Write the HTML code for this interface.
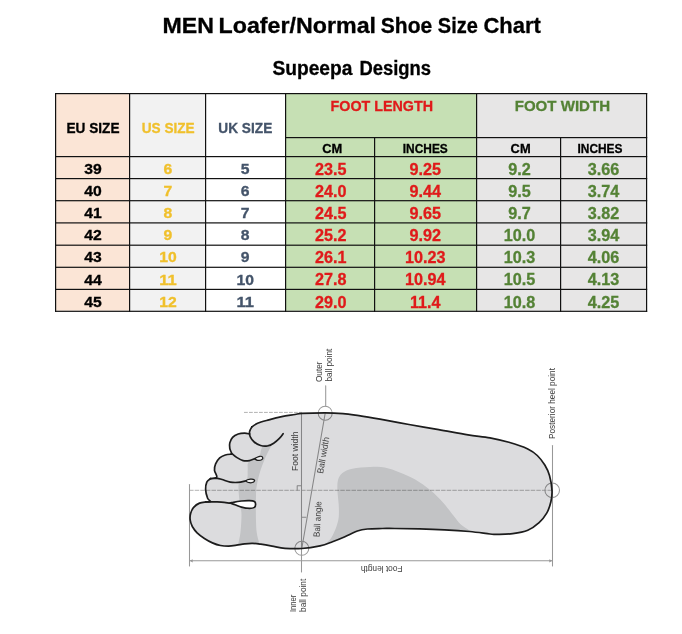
<!DOCTYPE html>
<html><head><meta charset="utf-8"><title>MEN Loafer/Normal Shoe Size Chart</title>
<style>
html,body{margin:0;padding:0;background:#fff;}
body{width:682px;height:634px;overflow:hidden;font-family:"Liberation Sans",sans-serif;}
svg{display:block;font-family:"Liberation Sans",sans-serif;will-change:transform;}
</style></head><body>
<svg width="682" height="634" viewBox="0 0 682 634">
<rect x="55" y="93" width="74" height="217.7" fill="#fbe5d6"/>
<rect x="129" y="93" width="76" height="217.7" fill="#f2f2f2"/>
<rect x="285" y="93" width="191" height="217.7" fill="#c6e0b4"/>
<rect x="476" y="93" width="170" height="217.7" fill="#e7e6e6"/>
<rect x="55" y="93" width="592.2" height="1.2" fill="#111"/>
<rect x="285" y="137" width="362.2" height="1.2" fill="#111"/>
<rect x="55" y="156" width="592.2" height="1.2" fill="#111"/>
<rect x="55" y="178" width="592.2" height="1.2" fill="#111"/>
<rect x="55" y="200.1" width="592.2" height="1.2" fill="#111"/>
<rect x="55" y="222.3" width="592.2" height="1.2" fill="#111"/>
<rect x="55" y="244.6" width="592.2" height="1.2" fill="#111"/>
<rect x="55" y="266.7" width="592.2" height="1.2" fill="#111"/>
<rect x="55" y="288.8" width="592.2" height="1.2" fill="#111"/>
<rect x="55" y="310.7" width="592.2" height="1.2" fill="#111"/>
<rect x="55" y="93" width="1.2" height="218.9" fill="#111"/>
<rect x="129" y="93" width="1.2" height="218.9" fill="#111"/>
<rect x="205" y="93" width="1.2" height="218.9" fill="#111"/>
<rect x="285" y="93" width="1.2" height="218.9" fill="#111"/>
<rect x="374" y="137" width="1.2" height="174.9" fill="#111"/>
<rect x="476" y="93" width="1.2" height="218.9" fill="#111"/>
<rect x="560" y="137" width="1.2" height="174.9" fill="#111"/>
<rect x="646" y="93" width="1.2" height="218.9" fill="#111"/>
<text x="162.6" y="32.8" font-size="21.4" fill="#000" stroke="#000" stroke-width="0.3" text-anchor="start" font-weight="bold" textLength="51.4" lengthAdjust="spacingAndGlyphs">MEN</text>
<text x="218.6" y="32.8" font-size="21.4" fill="#000" stroke="#000" stroke-width="0.3" text-anchor="start" font-weight="bold" textLength="157.4" lengthAdjust="spacingAndGlyphs">Loafer/Normal</text>
<text x="380.8" y="32.8" font-size="21.4" fill="#000" stroke="#000" stroke-width="0.3" text-anchor="start" font-weight="bold" textLength="51.4" lengthAdjust="spacingAndGlyphs">Shoe</text>
<text x="437.8" y="32.8" font-size="21.4" fill="#000" stroke="#000" stroke-width="0.3" text-anchor="start" font-weight="bold" textLength="40" lengthAdjust="spacingAndGlyphs">Size</text>
<text x="483.4" y="32.8" font-size="21.4" fill="#000" stroke="#000" stroke-width="0.3" text-anchor="start" font-weight="bold" textLength="57.4" lengthAdjust="spacingAndGlyphs">Chart</text>
<text x="272.4" y="74.5" font-size="19.6" fill="#000" stroke="#000" stroke-width="0.3" text-anchor="start" font-weight="bold" textLength="80" lengthAdjust="spacingAndGlyphs">Supeepa</text>
<text x="359.4" y="74.5" font-size="19.6" fill="#000" stroke="#000" stroke-width="0.3" text-anchor="start" font-weight="bold" textLength="71.6" lengthAdjust="spacingAndGlyphs">Designs</text>
<text x="93" y="132.6" font-size="14.7" fill="#000000" stroke="#000000" stroke-width="0.3" text-anchor="middle" font-weight="bold" textLength="53" lengthAdjust="spacingAndGlyphs">EU SIZE</text>
<text x="168.2" y="132.6" font-size="14.7" fill="#f0c02c" stroke="#f0c02c" stroke-width="0.3" text-anchor="middle" font-weight="bold" textLength="53" lengthAdjust="spacingAndGlyphs">US SIZE</text>
<text x="245.3" y="132.6" font-size="14.7" fill="#44546a" stroke="#44546a" stroke-width="0.3" text-anchor="middle" font-weight="bold" textLength="54" lengthAdjust="spacingAndGlyphs">UK SIZE</text>
<text x="381.8" y="111" font-size="15.4" fill="#e01a1a" stroke="#e01a1a" stroke-width="0.3" text-anchor="middle" font-weight="bold" textLength="102.4" lengthAdjust="spacingAndGlyphs">FOOT LENGTH</text>
<text x="562.4" y="111" font-size="15.4" fill="#548235" stroke="#548235" stroke-width="0.3" text-anchor="middle" font-weight="bold" textLength="95.4" lengthAdjust="spacingAndGlyphs">FOOT WIDTH</text>
<text x="332.2" y="153" font-size="12.4" fill="#000" stroke="#000" stroke-width="0.3" text-anchor="middle" font-weight="bold" textLength="20" lengthAdjust="spacingAndGlyphs">CM</text>
<text x="425.3" y="153" font-size="12.4" fill="#000" stroke="#000" stroke-width="0.3" text-anchor="middle" font-weight="bold" textLength="45" lengthAdjust="spacingAndGlyphs">INCHES</text>
<text x="520.6" y="153" font-size="12.4" fill="#000" stroke="#000" stroke-width="0.3" text-anchor="middle" font-weight="bold" textLength="20" lengthAdjust="spacingAndGlyphs">CM</text>
<text x="600" y="153" font-size="12.4" fill="#000" stroke="#000" stroke-width="0.3" text-anchor="middle" font-weight="bold" textLength="45" lengthAdjust="spacingAndGlyphs">INCHES</text>
<text x="92.9" y="173.8" font-size="14.7" fill="#000000" stroke="#000000" stroke-width="0.3" text-anchor="middle" font-weight="bold" textLength="17.4906" lengthAdjust="spacingAndGlyphs">39</text>
<text x="167.9" y="173.8" font-size="14.7" fill="#f0c02c" stroke="#f0c02c" stroke-width="0.3" text-anchor="middle" font-weight="bold" textLength="8.74532" lengthAdjust="spacingAndGlyphs">6</text>
<text x="245.2" y="173.8" font-size="14.7" fill="#44546a" stroke="#44546a" stroke-width="0.3" text-anchor="middle" font-weight="bold" textLength="8.74532" lengthAdjust="spacingAndGlyphs">5</text>
<text x="330.8" y="174.6" font-size="16.2" fill="#e01a1a" stroke="#e01a1a" stroke-width="0.3" text-anchor="middle" font-weight="bold">23.5</text>
<text x="425.2" y="174.6" font-size="16.2" fill="#e01a1a" stroke="#e01a1a" stroke-width="0.3" text-anchor="middle" font-weight="bold">9.25</text>
<text x="519.5" y="174.6" font-size="16.2" fill="#548235" stroke="#548235" stroke-width="0.3" text-anchor="middle" font-weight="bold">9.2</text>
<text x="603.5" y="174.6" font-size="16.2" fill="#548235" stroke="#548235" stroke-width="0.3" text-anchor="middle" font-weight="bold">3.66</text>
<text x="92.9" y="195.95" font-size="14.7" fill="#000000" stroke="#000000" stroke-width="0.3" text-anchor="middle" font-weight="bold" textLength="17.4906" lengthAdjust="spacingAndGlyphs">40</text>
<text x="167.9" y="195.95" font-size="14.7" fill="#f0c02c" stroke="#f0c02c" stroke-width="0.3" text-anchor="middle" font-weight="bold" textLength="8.74532" lengthAdjust="spacingAndGlyphs">7</text>
<text x="245.2" y="195.95" font-size="14.7" fill="#44546a" stroke="#44546a" stroke-width="0.3" text-anchor="middle" font-weight="bold" textLength="8.74532" lengthAdjust="spacingAndGlyphs">6</text>
<text x="330.8" y="196.75" font-size="16.2" fill="#e01a1a" stroke="#e01a1a" stroke-width="0.3" text-anchor="middle" font-weight="bold">24.0</text>
<text x="425.2" y="196.75" font-size="16.2" fill="#e01a1a" stroke="#e01a1a" stroke-width="0.3" text-anchor="middle" font-weight="bold">9.44</text>
<text x="519.5" y="196.75" font-size="16.2" fill="#548235" stroke="#548235" stroke-width="0.3" text-anchor="middle" font-weight="bold">9.5</text>
<text x="603.5" y="196.75" font-size="16.2" fill="#548235" stroke="#548235" stroke-width="0.3" text-anchor="middle" font-weight="bold">3.74</text>
<text x="92.9" y="218.1" font-size="14.7" fill="#000000" stroke="#000000" stroke-width="0.3" text-anchor="middle" font-weight="bold" textLength="17.4906" lengthAdjust="spacingAndGlyphs">41</text>
<text x="167.9" y="218.1" font-size="14.7" fill="#f0c02c" stroke="#f0c02c" stroke-width="0.3" text-anchor="middle" font-weight="bold" textLength="8.74532" lengthAdjust="spacingAndGlyphs">8</text>
<text x="245.2" y="218.1" font-size="14.7" fill="#44546a" stroke="#44546a" stroke-width="0.3" text-anchor="middle" font-weight="bold" textLength="8.74532" lengthAdjust="spacingAndGlyphs">7</text>
<text x="330.8" y="218.9" font-size="16.2" fill="#e01a1a" stroke="#e01a1a" stroke-width="0.3" text-anchor="middle" font-weight="bold">24.5</text>
<text x="425.2" y="218.9" font-size="16.2" fill="#e01a1a" stroke="#e01a1a" stroke-width="0.3" text-anchor="middle" font-weight="bold">9.65</text>
<text x="519.5" y="218.9" font-size="16.2" fill="#548235" stroke="#548235" stroke-width="0.3" text-anchor="middle" font-weight="bold">9.7</text>
<text x="603.5" y="218.9" font-size="16.2" fill="#548235" stroke="#548235" stroke-width="0.3" text-anchor="middle" font-weight="bold">3.82</text>
<text x="92.9" y="240.25" font-size="14.7" fill="#000000" stroke="#000000" stroke-width="0.3" text-anchor="middle" font-weight="bold" textLength="17.4906" lengthAdjust="spacingAndGlyphs">42</text>
<text x="167.9" y="240.25" font-size="14.7" fill="#f0c02c" stroke="#f0c02c" stroke-width="0.3" text-anchor="middle" font-weight="bold" textLength="8.74532" lengthAdjust="spacingAndGlyphs">9</text>
<text x="245.2" y="240.25" font-size="14.7" fill="#44546a" stroke="#44546a" stroke-width="0.3" text-anchor="middle" font-weight="bold" textLength="8.74532" lengthAdjust="spacingAndGlyphs">8</text>
<text x="330.8" y="241.05" font-size="16.2" fill="#e01a1a" stroke="#e01a1a" stroke-width="0.3" text-anchor="middle" font-weight="bold">25.2</text>
<text x="425.2" y="241.05" font-size="16.2" fill="#e01a1a" stroke="#e01a1a" stroke-width="0.3" text-anchor="middle" font-weight="bold">9.92</text>
<text x="519.5" y="241.05" font-size="16.2" fill="#548235" stroke="#548235" stroke-width="0.3" text-anchor="middle" font-weight="bold">10.0</text>
<text x="603.5" y="241.05" font-size="16.2" fill="#548235" stroke="#548235" stroke-width="0.3" text-anchor="middle" font-weight="bold">3.94</text>
<text x="92.9" y="262.4" font-size="14.7" fill="#000000" stroke="#000000" stroke-width="0.3" text-anchor="middle" font-weight="bold" textLength="17.4906" lengthAdjust="spacingAndGlyphs">43</text>
<text x="167.9" y="262.4" font-size="14.7" fill="#f0c02c" stroke="#f0c02c" stroke-width="0.3" text-anchor="middle" font-weight="bold" textLength="17.4906" lengthAdjust="spacingAndGlyphs">10</text>
<text x="245.2" y="262.4" font-size="14.7" fill="#44546a" stroke="#44546a" stroke-width="0.3" text-anchor="middle" font-weight="bold" textLength="8.74532" lengthAdjust="spacingAndGlyphs">9</text>
<text x="330.8" y="263.2" font-size="16.2" fill="#e01a1a" stroke="#e01a1a" stroke-width="0.3" text-anchor="middle" font-weight="bold">26.1</text>
<text x="425.2" y="263.2" font-size="16.2" fill="#e01a1a" stroke="#e01a1a" stroke-width="0.3" text-anchor="middle" font-weight="bold">10.23</text>
<text x="519.5" y="263.2" font-size="16.2" fill="#548235" stroke="#548235" stroke-width="0.3" text-anchor="middle" font-weight="bold">10.3</text>
<text x="603.5" y="263.2" font-size="16.2" fill="#548235" stroke="#548235" stroke-width="0.3" text-anchor="middle" font-weight="bold">4.06</text>
<text x="92.9" y="284.55" font-size="14.7" fill="#000000" stroke="#000000" stroke-width="0.3" text-anchor="middle" font-weight="bold" textLength="17.4906" lengthAdjust="spacingAndGlyphs">44</text>
<text x="167.9" y="284.55" font-size="14.7" fill="#f0c02c" stroke="#f0c02c" stroke-width="0.3" text-anchor="middle" font-weight="bold" textLength="17.4906" lengthAdjust="spacingAndGlyphs">11</text>
<text x="245.2" y="284.55" font-size="14.7" fill="#44546a" stroke="#44546a" stroke-width="0.3" text-anchor="middle" font-weight="bold" textLength="17.4906" lengthAdjust="spacingAndGlyphs">10</text>
<text x="330.8" y="285.35" font-size="16.2" fill="#e01a1a" stroke="#e01a1a" stroke-width="0.3" text-anchor="middle" font-weight="bold">27.8</text>
<text x="425.2" y="285.35" font-size="16.2" fill="#e01a1a" stroke="#e01a1a" stroke-width="0.3" text-anchor="middle" font-weight="bold">10.94</text>
<text x="519.5" y="285.35" font-size="16.2" fill="#548235" stroke="#548235" stroke-width="0.3" text-anchor="middle" font-weight="bold">10.5</text>
<text x="603.5" y="285.35" font-size="16.2" fill="#548235" stroke="#548235" stroke-width="0.3" text-anchor="middle" font-weight="bold">4.13</text>
<text x="92.9" y="306.7" font-size="14.7" fill="#000000" stroke="#000000" stroke-width="0.3" text-anchor="middle" font-weight="bold" textLength="17.4906" lengthAdjust="spacingAndGlyphs">45</text>
<text x="167.9" y="306.7" font-size="14.7" fill="#f0c02c" stroke="#f0c02c" stroke-width="0.3" text-anchor="middle" font-weight="bold" textLength="17.4906" lengthAdjust="spacingAndGlyphs">12</text>
<text x="245.2" y="306.7" font-size="14.7" fill="#44546a" stroke="#44546a" stroke-width="0.3" text-anchor="middle" font-weight="bold" textLength="17.4906" lengthAdjust="spacingAndGlyphs">11</text>
<text x="330.8" y="307.5" font-size="16.2" fill="#e01a1a" stroke="#e01a1a" stroke-width="0.3" text-anchor="middle" font-weight="bold">29.0</text>
<text x="425.2" y="307.5" font-size="16.2" fill="#e01a1a" stroke="#e01a1a" stroke-width="0.3" text-anchor="middle" font-weight="bold">11.4</text>
<text x="519.5" y="307.5" font-size="16.2" fill="#548235" stroke="#548235" stroke-width="0.3" text-anchor="middle" font-weight="bold">10.8</text>
<text x="603.5" y="307.5" font-size="16.2" fill="#548235" stroke="#548235" stroke-width="0.3" text-anchor="middle" font-weight="bold">4.25</text>
<g fill="none" stroke-linecap="round" stroke-linejoin="round">
<path d="M251.9 426.8C252.9 426.2 254.8 424.5 257.6 423.3C260.4 422.1 264.9 421.0 268.9 419.9C272.9 418.8 277.4 417.6 281.8 416.7C286.2 415.8 291.6 415.1 295.0 414.5C298.4 413.9 297.0 413.7 302.0 413.4C307.0 413.1 318.2 412.8 325.0 412.8C331.8 412.8 337.4 413.1 343.0 413.6C348.6 414.1 352.7 414.8 358.9 415.7C365.1 416.6 371.6 417.7 380.0 419.2C388.4 420.7 399.2 422.8 409.0 424.5C418.8 426.2 428.9 427.9 438.7 429.6C448.5 431.3 459.4 433.4 468.0 434.8C476.6 436.2 483.2 436.6 490.0 437.9C496.8 439.1 502.6 440.5 508.9 442.3C515.2 444.1 523.1 446.7 527.8 448.9C532.5 451.1 534.5 452.8 537.3 455.5C540.1 458.2 542.8 461.7 544.8 465.0C546.8 468.3 548.3 471.1 549.5 475.4C550.7 479.6 551.8 486.1 552.0 490.5C552.2 494.9 551.8 498.0 550.9 501.8C550.0 505.6 548.7 509.7 546.7 513.2C544.7 516.7 542.2 519.8 539.1 522.6C536.0 525.4 532.2 528.4 527.8 530.2C523.4 532.0 517.8 532.9 512.7 533.6C507.6 534.3 501.1 534.3 497.3 534.4C493.5 534.5 494.6 534.5 490.0 534.0C485.4 533.5 477.2 532.2 469.6 531.5C462.0 530.8 452.9 530.2 444.6 529.8C436.3 529.3 428.0 529.0 419.7 528.8C411.4 528.6 401.0 528.5 394.8 528.5C388.6 528.5 386.9 528.4 382.3 528.5C377.7 528.6 371.5 528.6 367.4 529.0C363.2 529.4 361.1 529.7 357.4 531.0C353.6 532.3 349.0 534.9 344.9 536.7C340.8 538.5 336.6 540.2 332.5 541.7C328.4 543.2 325.1 544.7 320.0 545.8C314.9 546.9 307.5 548.1 301.7 548.5C295.9 548.9 289.9 548.7 285.0 548.3C280.1 547.9 276.1 546.8 272.1 546.1C268.1 545.4 264.0 544.7 260.8 544.2C257.6 543.8 255.4 543.5 252.7 543.4C250.0 543.3 247.4 543.6 244.7 543.9C242.0 544.2 239.3 544.8 236.6 545.2C233.9 545.6 231.2 546.1 228.5 546.1C225.8 546.1 223.2 546.0 220.5 545.5C217.8 545.0 215.1 544.1 212.4 542.9C209.7 541.7 207.0 540.2 204.4 538.5C201.8 536.8 199.1 534.9 197.1 532.9C195.1 530.9 193.5 528.6 192.3 526.5C191.2 524.4 190.5 522.2 190.2 520.0C189.9 517.8 190.0 515.6 190.6 513.5C191.2 511.4 192.4 508.8 193.9 507.1C195.4 505.4 197.5 504.0 199.5 503.1C201.5 502.2 204.9 502.1 206.0 501.9L210.5 501.6C210.0 501.0 208.4 500.2 207.6 498.2C206.8 496.2 205.7 492.1 205.6 489.4C205.5 486.7 206.0 483.9 206.8 482.1C207.6 480.3 209.9 479.2 210.5 478.6L216.8 477.2C216.4 476.1 214.7 472.5 214.5 470.3C214.3 468.1 214.7 466.0 215.6 463.9C216.5 461.8 218.1 459.4 219.7 457.9C221.3 456.4 223.4 455.6 225.3 455.0C227.2 454.4 230.2 454.3 231.2 454.2L231.6 453.2C231.3 452.4 230.1 450.2 229.8 448.5C229.5 446.8 229.3 444.8 229.8 442.9C230.3 441.0 231.2 438.8 232.6 437.3C234.0 435.8 236.2 434.7 238.2 434.0C240.2 433.3 242.8 433.2 244.7 433.2C246.6 433.2 249.0 433.9 249.8 434.0L249.6 431.6Z" fill="#dcdcde" stroke="none"/>
<defs><clipPath id="fc"><path d="M251.9 426.8C252.9 426.2 254.8 424.5 257.6 423.3C260.4 422.1 264.9 421.0 268.9 419.9C272.9 418.8 277.4 417.6 281.8 416.7C286.2 415.8 291.6 415.1 295.0 414.5C298.4 413.9 297.0 413.7 302.0 413.4C307.0 413.1 318.2 412.8 325.0 412.8C331.8 412.8 337.4 413.1 343.0 413.6C348.6 414.1 352.7 414.8 358.9 415.7C365.1 416.6 371.6 417.7 380.0 419.2C388.4 420.7 399.2 422.8 409.0 424.5C418.8 426.2 428.9 427.9 438.7 429.6C448.5 431.3 459.4 433.4 468.0 434.8C476.6 436.2 483.2 436.6 490.0 437.9C496.8 439.1 502.6 440.5 508.9 442.3C515.2 444.1 523.1 446.7 527.8 448.9C532.5 451.1 534.5 452.8 537.3 455.5C540.1 458.2 542.8 461.7 544.8 465.0C546.8 468.3 548.3 471.1 549.5 475.4C550.7 479.6 551.8 486.1 552.0 490.5C552.2 494.9 551.8 498.0 550.9 501.8C550.0 505.6 548.7 509.7 546.7 513.2C544.7 516.7 542.2 519.8 539.1 522.6C536.0 525.4 532.2 528.4 527.8 530.2C523.4 532.0 517.8 532.9 512.7 533.6C507.6 534.3 501.1 534.3 497.3 534.4C493.5 534.5 494.6 534.5 490.0 534.0C485.4 533.5 477.2 532.2 469.6 531.5C462.0 530.8 452.9 530.2 444.6 529.8C436.3 529.3 428.0 529.0 419.7 528.8C411.4 528.6 401.0 528.5 394.8 528.5C388.6 528.5 386.9 528.4 382.3 528.5C377.7 528.6 371.5 528.6 367.4 529.0C363.2 529.4 361.1 529.7 357.4 531.0C353.6 532.3 349.0 534.9 344.9 536.7C340.8 538.5 336.6 540.2 332.5 541.7C328.4 543.2 325.1 544.7 320.0 545.8C314.9 546.9 307.5 548.1 301.7 548.5C295.9 548.9 289.9 548.7 285.0 548.3C280.1 547.9 276.1 546.8 272.1 546.1C268.1 545.4 264.0 544.7 260.8 544.2C257.6 543.8 255.4 543.5 252.7 543.4C250.0 543.3 247.4 543.6 244.7 543.9C242.0 544.2 239.3 544.8 236.6 545.2C233.9 545.6 231.2 546.1 228.5 546.1C225.8 546.1 223.2 546.0 220.5 545.5C217.8 545.0 215.1 544.1 212.4 542.9C209.7 541.7 207.0 540.2 204.4 538.5C201.8 536.8 199.1 534.9 197.1 532.9C195.1 530.9 193.5 528.6 192.3 526.5C191.2 524.4 190.5 522.2 190.2 520.0C189.9 517.8 190.0 515.6 190.6 513.5C191.2 511.4 192.4 508.8 193.9 507.1C195.4 505.4 197.5 504.0 199.5 503.1C201.5 502.2 204.9 502.1 206.0 501.9L210.5 501.6C210.0 501.0 208.4 500.2 207.6 498.2C206.8 496.2 205.7 492.1 205.6 489.4C205.5 486.7 206.0 483.9 206.8 482.1C207.6 480.3 209.9 479.2 210.5 478.6L216.8 477.2C216.4 476.1 214.7 472.5 214.5 470.3C214.3 468.1 214.7 466.0 215.6 463.9C216.5 461.8 218.1 459.4 219.7 457.9C221.3 456.4 223.4 455.6 225.3 455.0C227.2 454.4 230.2 454.3 231.2 454.2L231.6 453.2C231.3 452.4 230.1 450.2 229.8 448.5C229.5 446.8 229.3 444.8 229.8 442.9C230.3 441.0 231.2 438.8 232.6 437.3C234.0 435.8 236.2 434.7 238.2 434.0C240.2 433.3 242.8 433.2 244.7 433.2C246.6 433.2 249.0 433.9 249.8 434.0L249.6 431.6Z"/></clipPath><filter id="bl" x="-10%" y="-10%" width="120%" height="120%"><feGaussianBlur stdDeviation="0.7"/></filter></defs>
<g clip-path="url(#fc)"><g filter="url(#bl)">
<path d="M272.5 444.0C271.8 445.3 269.4 449.2 268.0 452.0C266.6 454.8 265.3 457.7 264.0 461.0C262.7 464.3 261.2 468.1 260.0 472.0C258.8 475.9 257.7 480.7 257.0 484.5C256.3 488.3 256.2 488.9 256.0 495.0C255.8 501.1 255.8 514.5 256.0 521.0C256.2 527.5 256.4 530.2 257.0 534.0C257.6 537.8 259.1 542.3 259.5 544.0L238.0 545.5C238.4 543.2 239.9 537.1 240.5 532.0C241.1 526.9 241.5 519.2 241.5 515.0C241.5 510.8 240.8 509.3 240.5 507.0C240.2 504.7 239.8 504.0 239.5 501.0C239.2 498.0 238.5 492.0 238.5 489.0C238.5 486.0 238.1 484.5 239.5 483.0C240.9 481.5 245.3 482.2 246.7 480.0C248.1 477.8 247.4 473.0 247.7 470.0C248.0 467.0 246.8 464.3 248.7 462.0C250.6 459.7 256.9 458.0 259.0 456.0C261.1 454.0 260.3 451.8 261.0 450.0C261.7 448.2 262.7 445.8 263.0 445.0Z" fill="#c2c3c5" stroke="none"/>
<path d="M325.0 544.6C326.0 543.5 329.3 540.9 331.2 538.0C333.1 535.1 334.9 530.8 336.2 527.3C337.4 523.8 338.3 521.0 338.7 517.3C339.1 513.5 338.9 509.4 338.7 504.8C338.5 500.2 337.5 494.0 337.4 489.9C337.3 485.8 337.2 482.8 338.0 480.0C338.8 477.2 340.0 474.8 342.4 472.9C344.8 471.0 347.8 469.7 352.4 468.7C357.0 467.7 364.5 467.2 369.9 467.0C375.3 466.8 379.8 466.5 384.8 467.4C389.8 468.3 394.7 470.4 399.8 472.4C404.9 474.4 410.1 476.4 415.2 479.4C420.3 482.4 425.9 486.4 430.6 490.3C435.3 494.2 439.4 498.6 443.2 502.8C447.0 507.0 450.3 511.7 453.2 515.3C456.1 518.9 457.7 521.6 460.6 524.2C463.5 526.8 468.9 529.9 470.6 531.0L444.6 529.8C440.5 529.6 428.0 529.0 419.7 528.8C411.4 528.6 401.0 528.5 394.8 528.5C388.6 528.5 386.9 528.4 382.3 528.5C377.7 528.6 371.5 528.6 367.4 529.0C363.2 529.4 361.1 529.7 357.4 531.0C353.6 532.3 349.0 534.9 344.9 536.7C340.8 538.5 335.8 540.4 332.5 541.7C329.2 543.0 326.2 544.1 325.0 544.6Z" fill="#c2c3c5" stroke="none"/>
</g></g>
<g stroke="#262626" stroke-width="1.05" opacity="0.47">
<path d="M244.4 412.4H301.4" stroke-dasharray="3 2" stroke-width="0.75"/>
<path d="M189.5 490.3H553" stroke-dasharray="3.7 1.9" stroke-width="0.75"/>
<path d="M189.5 484.5V566"/>
<path d="M552.5 445.5V566"/>
<path d="M189.5 560.8H552.5"/>
<path d="M189.7 560.8l3 -1.6v3.2zM552.3 560.8l-3 -1.6v3.2z" fill="#262626" stroke="none"/>
<path d="M301.5 413V572"/>
<path d="M325.7 385.7V406"/>
<path d="M325.2 413.2L301.8 548.3"/>
<path d="M297.2 490.3V485.8H301.5" />
<path d="M301.5 517.3h4.4" />
<circle cx="325.2" cy="413.2" r="7"/>
<circle cx="301.8" cy="548.3" r="7"/>
<circle cx="552.2" cy="490.3" r="7.3"/>
</g>
<path d="M230.2 503.1C229.9 502.7 231.5 502.7 233.4 502.3C235.3 501.9 238.8 501.3 241.5 501.0C244.2 500.7 247.3 500.5 249.5 500.6C251.7 500.7 253.4 500.9 254.4 501.5C255.4 502.1 255.6 503.2 255.6 504.2C255.6 505.2 255.4 506.7 254.4 507.4C253.4 508.1 251.7 508.4 249.5 508.4C247.3 508.3 243.9 507.7 241.5 507.1C239.1 506.5 236.9 505.4 235.0 504.7C233.1 504.0 230.5 503.5 230.2 503.1Z" fill="#fff" stroke="none"/>
<path d="M246.0 481.0C246.1 480.4 248.9 479.4 250.3 479.2C251.7 479.0 253.9 479.5 254.4 480.0C254.9 480.5 254.3 481.7 253.5 482.1C252.7 482.6 250.8 482.9 249.5 482.7C248.2 482.5 245.9 481.6 246.0 481.0Z" fill="#f1f1f1" stroke="none"/>
<path d="M255.0 458.6C255.4 457.9 258.7 456.5 260.0 456.3C261.3 456.1 262.4 456.8 262.7 457.4C263.0 458.0 262.5 459.3 261.6 459.8C260.8 460.3 258.7 460.5 257.6 460.3C256.5 460.1 254.6 459.3 255.0 458.6Z" fill="#f1f1f1" stroke="none"/>
<g stroke="#1c1c1c" stroke-width="1.7">
<path d="M251.9 426.8C252.9 426.2 254.8 424.5 257.6 423.3C260.4 422.1 264.9 421.0 268.9 419.9C272.9 418.8 277.4 417.6 281.8 416.7C286.2 415.8 291.6 415.1 295.0 414.5C298.4 413.9 297.0 413.7 302.0 413.4C307.0 413.1 318.2 412.8 325.0 412.8C331.8 412.8 337.4 413.1 343.0 413.6C348.6 414.1 352.7 414.8 358.9 415.7C365.1 416.6 371.6 417.7 380.0 419.2C388.4 420.7 399.2 422.8 409.0 424.5C418.8 426.2 428.9 427.9 438.7 429.6C448.5 431.3 459.4 433.4 468.0 434.8C476.6 436.2 483.2 436.6 490.0 437.9C496.8 439.1 502.6 440.5 508.9 442.3C515.2 444.1 523.1 446.7 527.8 448.9C532.5 451.1 534.5 452.8 537.3 455.5C540.1 458.2 542.8 461.7 544.8 465.0C546.8 468.3 548.3 471.1 549.5 475.4C550.7 479.6 551.8 486.1 552.0 490.5C552.2 494.9 551.8 498.0 550.9 501.8C550.0 505.6 548.7 509.7 546.7 513.2C544.7 516.7 542.2 519.8 539.1 522.6C536.0 525.4 532.2 528.4 527.8 530.2C523.4 532.0 517.8 532.9 512.7 533.6C507.6 534.3 501.1 534.3 497.3 534.4C493.5 534.5 494.6 534.5 490.0 534.0C485.4 533.5 477.2 532.2 469.6 531.5C462.0 530.8 452.9 530.2 444.6 529.8C436.3 529.3 428.0 529.0 419.7 528.8C411.4 528.6 401.0 528.5 394.8 528.5C388.6 528.5 386.9 528.4 382.3 528.5C377.7 528.6 371.5 528.6 367.4 529.0C363.2 529.4 361.1 529.7 357.4 531.0C353.6 532.3 349.0 534.9 344.9 536.7C340.8 538.5 336.6 540.2 332.5 541.7C328.4 543.2 325.1 544.7 320.0 545.8C314.9 546.9 307.5 548.1 301.7 548.5C295.9 548.9 289.9 548.7 285.0 548.3C280.1 547.9 276.1 546.8 272.1 546.1C268.1 545.4 264.0 544.7 260.8 544.2C257.6 543.8 255.4 543.5 252.7 543.4C250.0 543.3 247.4 543.6 244.7 543.9C242.0 544.2 239.3 544.8 236.6 545.2C233.9 545.6 231.2 546.1 228.5 546.1C225.8 546.1 223.2 546.0 220.5 545.5C217.8 545.0 215.1 544.1 212.4 542.9C209.7 541.7 207.0 540.2 204.4 538.5C201.8 536.8 199.1 534.9 197.1 532.9C195.1 530.9 193.5 528.6 192.3 526.5C191.2 524.4 190.5 522.2 190.2 520.0C189.9 517.8 190.0 515.6 190.6 513.5C191.2 511.4 192.4 508.8 193.9 507.1C195.4 505.4 197.5 504.0 199.5 503.1C201.5 502.2 204.9 502.1 206.0 501.9"/>
<path d="M206.0 501.9C207.9 501.9 213.3 501.7 217.3 501.9C221.3 502.1 228.0 502.9 230.2 503.1"/>
<path d="M230.2 503.1C229.9 502.7 231.5 502.7 233.4 502.3C235.3 501.9 238.8 501.3 241.5 501.0C244.2 500.7 247.3 500.5 249.5 500.6C251.7 500.7 253.4 500.9 254.4 501.5C255.4 502.1 255.6 503.2 255.6 504.2C255.6 505.2 255.4 506.7 254.4 507.4C253.4 508.1 251.7 508.4 249.5 508.4C247.3 508.3 243.9 507.7 241.5 507.1C239.1 506.5 236.9 505.4 235.0 504.7C233.1 504.0 230.5 503.5 230.2 503.1Z"/>
<path d="M206.0 501.9C206.8 501.8 210.2 502.2 210.5 501.6C210.8 501.0 208.4 500.2 207.6 498.2C206.8 496.2 205.7 492.1 205.6 489.4C205.5 486.7 206.0 483.9 206.8 482.1C207.6 480.3 209.9 479.2 210.5 478.6"/>
<path d="M210.5 478.6C211.6 478.4 216.1 478.6 216.8 477.2C217.5 475.8 214.7 472.5 214.5 470.3C214.3 468.1 214.7 466.0 215.6 463.9C216.5 461.8 218.1 459.4 219.7 457.9C221.3 456.4 223.4 455.6 225.3 455.0C227.2 454.4 230.2 454.3 231.2 454.2"/>
<path d="M210.5 478.6C211.6 478.6 215.4 478.2 217.3 478.3C219.2 478.4 219.9 478.9 222.1 479.5C224.2 480.1 227.5 481.6 230.2 482.1C232.9 482.6 235.6 482.6 238.2 482.4C240.8 482.2 244.3 481.1 245.5 480.9"/>
<path d="M246.0 481.0C246.1 480.4 248.9 479.4 250.3 479.2C251.7 479.0 253.9 479.5 254.4 480.0C254.9 480.5 254.3 481.7 253.5 482.1C252.7 482.6 250.8 482.9 249.5 482.7C248.2 482.5 245.9 481.6 246.0 481.0Z" stroke-width="1.2"/>
<path d="M231.2 454.2C231.3 454.0 231.8 454.1 231.6 453.2C231.4 452.2 230.1 450.2 229.8 448.5C229.5 446.8 229.3 444.8 229.8 442.9C230.3 441.0 231.2 438.8 232.6 437.3C234.0 435.8 236.2 434.7 238.2 434.0C240.2 433.3 242.8 433.2 244.7 433.2C246.6 433.2 249.0 433.9 249.8 434.0"/>
<path d="M231.6 453.4C232.4 454.1 234.7 456.2 236.6 457.4C238.5 458.6 240.9 460.1 243.1 460.6C245.2 461.1 247.5 460.9 249.5 460.6C251.5 460.3 254.1 458.9 255.0 458.6"/>
<path d="M255.0 458.6C255.4 457.9 258.7 456.5 260.0 456.3C261.3 456.1 262.4 456.8 262.7 457.4C263.0 458.0 262.5 459.3 261.6 459.8C260.8 460.3 258.7 460.5 257.6 460.3C256.5 460.1 254.6 459.3 255.0 458.6Z" stroke-width="1.2"/>
<path d="M251.9 426.8C251.5 427.6 249.9 429.9 249.6 431.6C249.3 433.3 249.5 435.1 250.3 436.8C251.1 438.5 252.5 440.6 254.2 442.0C255.9 443.4 258.4 444.8 260.6 445.5C262.8 446.2 265.1 446.4 267.3 446.0C269.5 445.6 271.7 444.5 273.7 443.2C275.7 441.9 277.8 440.0 279.4 438.4C281.0 436.8 282.5 434.5 283.1 433.7"/>
</g>
</g>
<text transform="translate(321.8 382) rotate(-90)" font-size="8.9" fill="#3a3a3a" text-anchor="start" textLength="20.5" lengthAdjust="spacingAndGlyphs">Outer</text>
<text transform="translate(331.5 381.6) rotate(-90)" font-size="8.9" fill="#3a3a3a" text-anchor="start" textLength="33" lengthAdjust="spacingAndGlyphs">ball point</text>
<text transform="translate(555.2 439) rotate(-90)" font-size="8.9" fill="#3a3a3a" text-anchor="start" textLength="71" lengthAdjust="spacingAndGlyphs">Posterior heel point</text>
<text transform="translate(296.3 612) rotate(-90)" font-size="8.9" fill="#3a3a3a" text-anchor="start" textLength="17.4" lengthAdjust="spacingAndGlyphs">Inner</text>
<text transform="translate(305.6 612) rotate(-90)" font-size="8.9" fill="#3a3a3a" text-anchor="start" textLength="33.3" lengthAdjust="spacingAndGlyphs">ball point</text>
<text transform="translate(402.6 566.3) rotate(180)" font-size="8.9" fill="#3a3a3a" text-anchor="start" textLength="41.7" lengthAdjust="spacingAndGlyphs">Foot length</text>
<text transform="translate(297.7 470.9) rotate(-90)" font-size="8.9" fill="#3a3a3a" text-anchor="start" textLength="39.3" lengthAdjust="spacingAndGlyphs">Foot width</text>
<text transform="translate(323 474) rotate(-80.2)" font-size="8.9" fill="#3a3a3a" text-anchor="start" textLength="37" lengthAdjust="spacingAndGlyphs">Ball width</text>
<text transform="translate(319.6 537.3) rotate(-87)" font-size="8.9" fill="#3a3a3a" text-anchor="start" textLength="36" lengthAdjust="spacingAndGlyphs">Ball angle</text>
</svg>
</body></html>
